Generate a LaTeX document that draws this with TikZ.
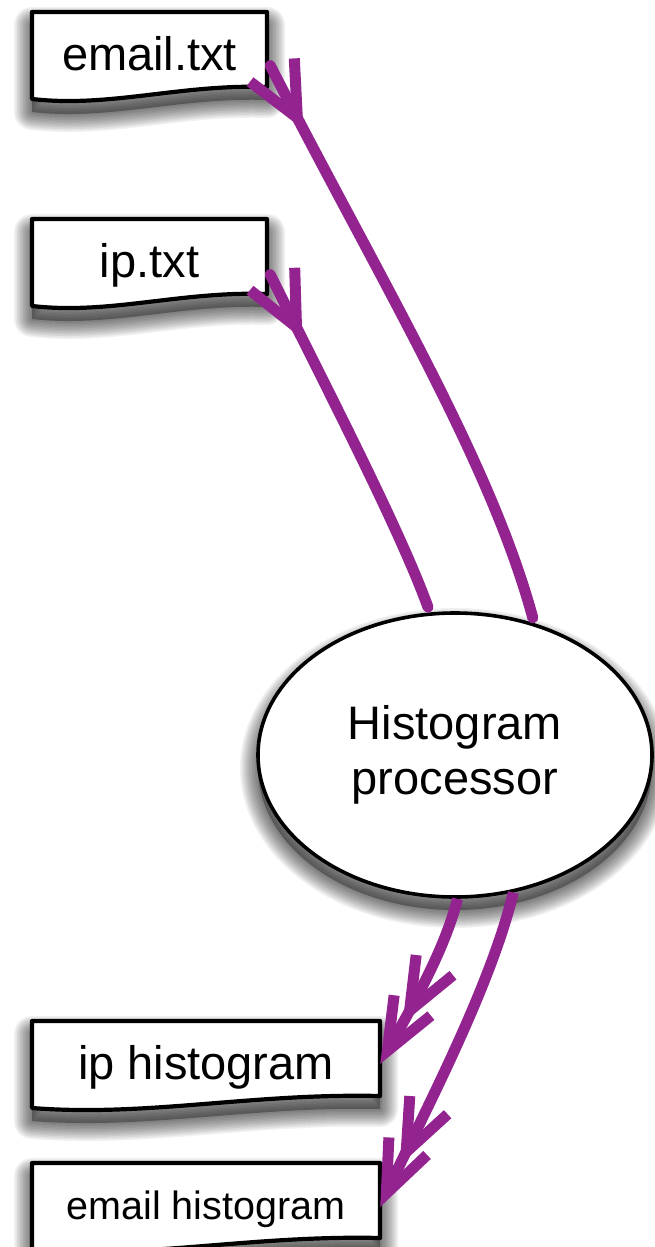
\documentclass[tikz,border=0pt]{standalone}
\usepackage{fontspec}
\setmainfont{Liberation Sans}
\usetikzlibrary{shapes.geometric,arrows.meta,decorations.markings}
\definecolor{flow}{RGB}{147,35,143}

\tikzset{
  shadefill/.style={black, opacity=0.32, yshift=-13pt},
  shadering/.style={black, opacity=0.055, yshift=-13pt, line join=round},
  docbox/.style={inner sep=0pt, minimum height=75pt, text height=42pt,
      text depth=0pt, font=\fontsize{47}{55}\selectfont},
  docline/.style={draw=black, line width=4.2pt, fill=white, line join=round},
  procnode/.style={ellipse, draw=black, line width=3.6pt, fill=white,
      minimum width=394pt, minimum height=284pt, inner sep=0pt, align=center,
      font=\fontsize{47}{55}\selectfont},
  flowline/.style={color=flow, draw=flow, line width=11pt},
  intip/.style={line cap=round, shorten >=5.5pt, postaction={decorate},
      decoration={markings, mark=at position 72pt with
        {\arrow{Straight Barb[length=54pt,width=50pt]}}}},
  outtip/.style={-{Straight Barb[length=52pt,width=42pt]}, postaction={decorate},
      decoration={markings, mark=at position -46pt with
        {\arrow{Straight Barb[length=52pt,width=42pt]}}}},
}

% soft drop shadow under a closed path: a dark core and widening faint rims
\newcommand\shadeunder[1]{%
  \fill[shadefill] #1;
  \foreach \r in {3,6,...,36} {\draw[shadering, line width=\r pt] #1;}
}

% outline of a file with a wavy lower edge; centre (#1,#2), width #3
\newcommand\docpath[3]{({#1-#3/2},{#2-37.5}) -- ({#1+#3/2},{#2-37.5})
    -- ({#1+#3/2},{#2+37.5})
    .. controls ({#1+#3/2-0.37*#3},{#2+34.5}) and ({#1-#3/2+0.33*#3},{#2+58.5})
    .. ({#1-#3/2},{#2+49.5}) -- cycle}

% a file: shadow, outline, then the named text node on top
% #1 name, #2 x, #3 y (centre), #4 width, #5 extra node options, #6 text
\newcommand\docfile[6]{%
  \shadeunder{\docpath{#2}{#3}{#4}}
  \path[docline] \docpath{#2}{#3}{#4};
  \node[docbox, minimum width=#4pt, #5] (#1) at (#2,#3) {#6};
}

\begin{document}
\begin{tikzpicture}[x=1pt, y=-1pt]
  \useasboundingbox (0,0) rectangle (654,1247);

  % files
  \docfile{email}{149.5}{49.5}{235}{}{email.txt}
  \docfile{iptxt}{149.5}{256.5}{235}{}{ip.txt}
  \docfile{iphist}{206}{1058.5}{348}{}{ip histogram}
  \docfile{emhist}{206}{1200.5}{348}{text height=38pt, font=\fontsize{39.5}{45}\selectfont}{email histogram}

  % processor
  \shadeunder{(455,755) ellipse [x radius=197, y radius=142]}
  \node[procnode] (proc) at (455,755) {Histogram\\processor};

  % inputs
  \draw[flowline, intip] ([xshift=3pt,yshift=-16pt]email.east)
    .. controls (380,280) and (490,460) .. (proc.59);
  \draw[flowline, intip] ([xshift=3pt,yshift=-18pt]iptxt.east)
    .. controls (330,395) and (400,530) .. (proc.100);

  % outputs
  \draw[flowline, outtip] (proc.271)
    .. controls (445,950) and (410,1010) .. ([yshift=-43pt]iphist.north east);
  \draw[flowline, outtip] (proc.293)
    .. controls (490,990) and (420,1120) .. ([yshift=-44pt]emhist.north east);
\end{tikzpicture}
\end{document}
